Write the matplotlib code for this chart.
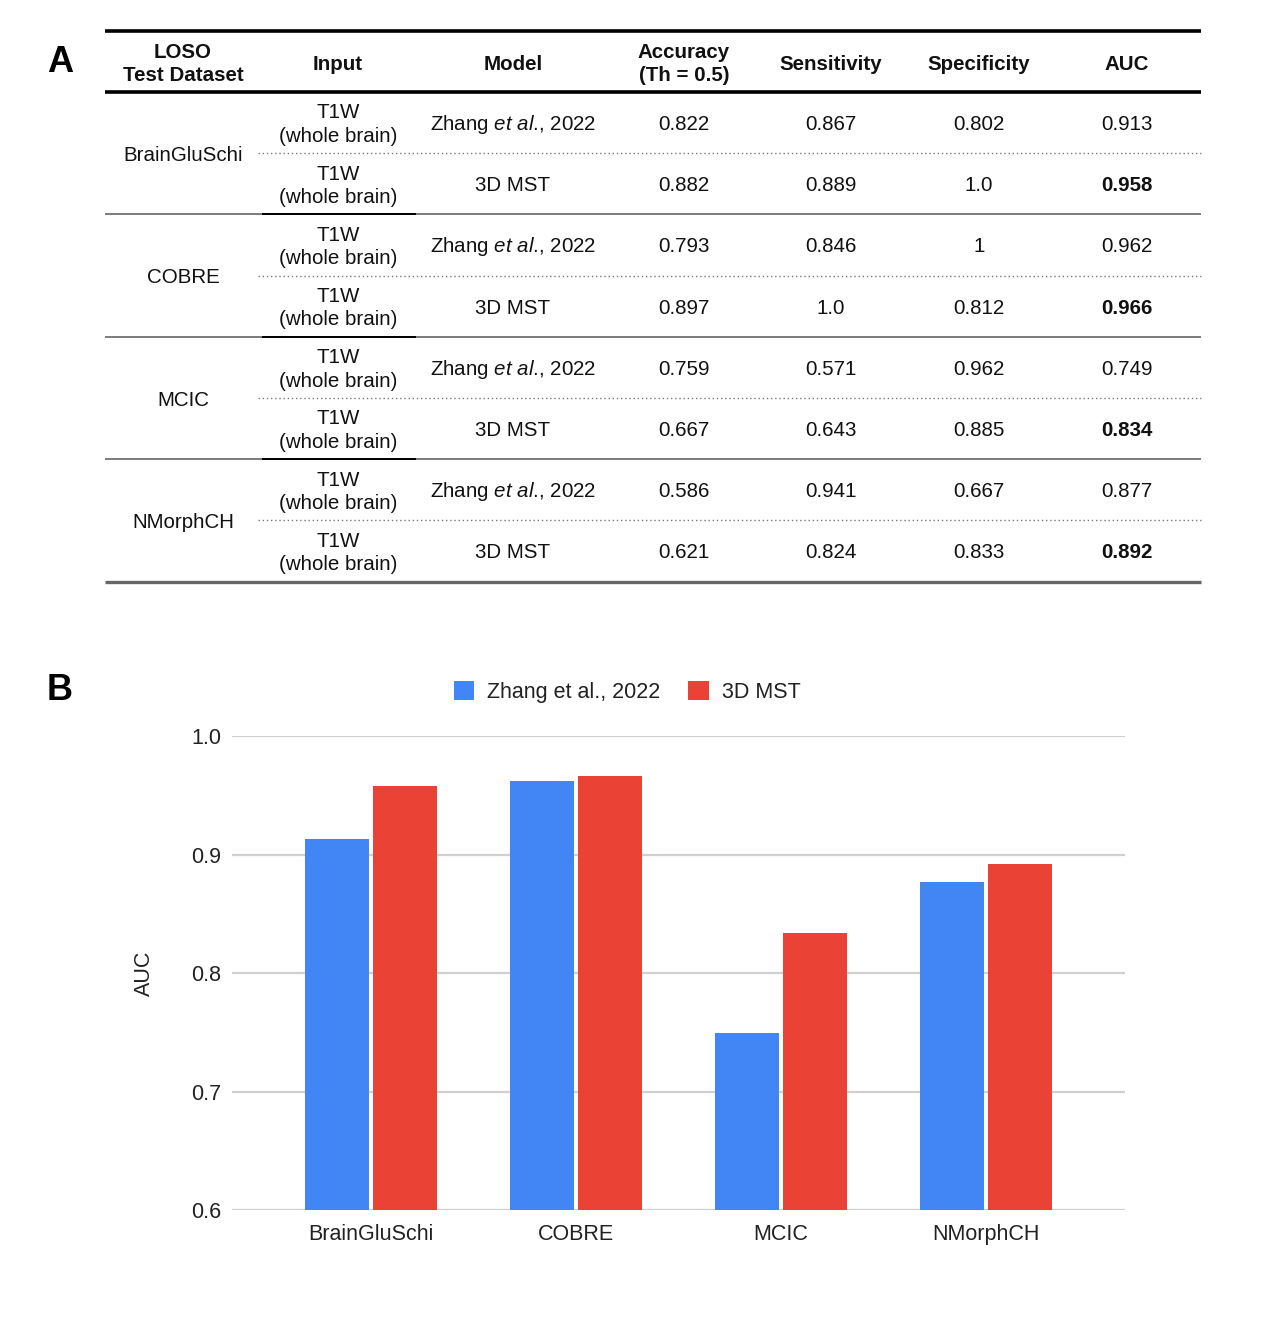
import matplotlib
matplotlib.use("Agg")
import matplotlib.pyplot as plt
import numpy as np

plt.rcParams["font.family"] = ["Liberation Sans", "DejaVu Sans"]
plt.rcParams["mathtext.fontset"] = "custom"
plt.rcParams["mathtext.rm"] = "Liberation Sans"
plt.rcParams["mathtext.it"] = "Liberation Sans:italic"
plt.rcParams["mathtext.bf"] = "Liberation Sans:bold"

# ---------- data ----------
datasets = ["BrainGluSchi", "COBRE", "MCIC", "NMorphCH"]
models = ["Zhang $\\mathit{et\\ al}$., 2022", "3D MST"]
legend_labels = ["Zhang et al., 2022", "3D MST"]
input_label = "T1W\n(whole brain)"
headers = ["LOSO\nTest Dataset", "Input", "Model", "Accuracy\n(Th = 0.5)",
           "Sensitivity", "Specificity", "AUC"]

acc_zhang = ["0.822", "0.793", "0.759", "0.586"]
acc_mst = ["0.882", "0.897", "0.667", "0.621"]
sens_zhang = ["0.867", "0.846", "0.571", "0.941"]
sens_mst = ["0.889", "1.0", "0.643", "0.824"]
spec_zhang = ["0.802", "1", "0.962", "0.667"]
spec_mst = ["1.0", "0.812", "0.885", "0.833"]
auc_zhang = [0.913, 0.962, 0.749, 0.877]
auc_mst = [0.958, 0.966, 0.834, 0.892]

yticks = [0.6, 0.7, 0.8, 0.9, 1.0]
BLUE, RED = "#4285F4", "#EA4335"
TXT = "#111111"

W, H = 1263, 1340
fig = plt.figure(figsize=(W / 100, H / 100), dpi=100)

# ---------- panel A: table drawn in pixel coords ----------
tab = fig.add_axes([0, 0, 1, 1])
tab.set_xlim(0, W)
tab.set_ylim(H, 0)
tab.axis("off")

fs = 14.8
ls = 1.3
dy = 2.0
col_x = [183, 338, 513, 684, 831, 979, 1127]
x0, x1 = 105, 1201
tab.text(60, 62, "A", fontsize=26, fontweight="bold", ha="center", va="center")

tab.plot([x0, x1], [31, 31], color="black", lw=2.6, solid_capstyle="butt")
tab.plot([x0, x1], [92, 92], color="black", lw=2.6, solid_capstyle="butt")
for cx, h in zip(col_x, headers):
    tab.text(cx, 62 + dy, h, fontsize=fs, fontweight="bold", ha="center", va="center",
             linespacing=ls, color=TXT)

row_h = 61.2
top = 92
for g, ds in enumerate(datasets):
    gy = top + g * 2 * row_h
    tab.text(col_x[0], gy + row_h + dy, ds, fontsize=fs, ha="center", va="center", color=TXT)
    vals = [
        (acc_zhang[g], sens_zhang[g], spec_zhang[g], f"{auc_zhang[g]:.3f}"),
        (acc_mst[g], sens_mst[g], spec_mst[g], f"{auc_mst[g]:.3f}"),
    ]
    for r in range(2):
        cy = gy + row_h * (r + 0.5) + dy
        tab.text(col_x[1], cy, input_label, fontsize=fs, ha="center", va="center",
                 linespacing=ls, color=TXT)
        tab.text(col_x[2], cy, models[r], fontsize=fs, ha="center", va="center", color=TXT)
        for k, v in enumerate(vals[r]):
            bold = (r == 1 and k == 3)
            tab.text(col_x[3 + k], cy, v, fontsize=fs, ha="center", va="center",
                     fontweight="bold" if bold else "normal", color=TXT)
    # dotted separator between the two models
    tab.plot([258, x1], [gy + row_h, gy + row_h], color="#777777", lw=1.0,
             ls=(0, (1, 2)))
    yb = gy + 2 * row_h
    if g < len(datasets) - 1:
        tab.plot([x0, x1], [yb, yb], color="#666666", lw=1.2, solid_capstyle="butt")
        tab.plot([262, 416], [yb, yb], color="black", lw=1.4, solid_capstyle="butt")
    else:
        tab.plot([x0, x1], [yb, yb], color="#666666", lw=2.4, solid_capstyle="butt")

tab.text(60, 690, "B", fontsize=26, fontweight="bold", ha="center", va="center")

# ---------- panel B: bar chart ----------
cfs = 15.5
ax = fig.add_axes([232 / W, 1 - 1210 / H, (1125 - 232) / W, (1210 - 736) / H])
x = np.arange(len(datasets))
bw, off = 0.31, 0.165
ax.bar(x - off, auc_zhang, bw, color=BLUE, label=legend_labels[0], zorder=3)
ax.bar(x + off, auc_mst, bw, color=RED, label=legend_labels[1], zorder=3)
ax.set_ylim(0.6, 1.0)
ax.set_xlim(-0.678, len(datasets) - 1 + 0.678)
ax.set_yticks(yticks)
ax.set_yticklabels([f"{t:.1f}" for t in yticks])
ax.set_xticks(x)
ax.set_xticklabels(datasets)
ax.yaxis.grid(True, color="#d0d0d0", lw=1.6, zorder=0)
ax.set_axisbelow(True)
for s in ax.spines.values():
    s.set_visible(False)
ax.tick_params(axis="both", length=0, labelsize=cfs, colors="#222222")
ax.tick_params(axis="x", pad=10)
ax.tick_params(axis="y", pad=8)
ax.set_ylabel("AUC", fontsize=cfs, color="#222222", labelpad=26)

fig.legend(loc="center", bbox_to_anchor=(627 / W, 1 - 692 / H), ncol=2, frameon=False,
           fontsize=cfs, handlelength=0.95, handleheight=0.95, columnspacing=1.3,
           handletextpad=0.6, labelcolor="#222222")

fig.savefig("out.png", dpi=100, facecolor="white")
